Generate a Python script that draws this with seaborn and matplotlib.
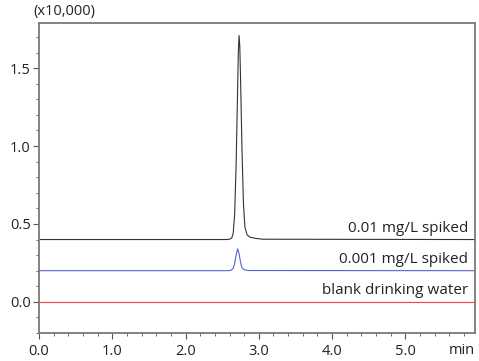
import pandas as pd
import matplotlib.pyplot as plt
import seaborn as sns
from matplotlib.ticker import MultipleLocator, FormatStrFormatter

# retention time (min) and intensity (x10,000)
t_hi = [0.0, 2.55, 2.60, 2.63, 2.65, 2.67, 2.69, 2.71, 2.72, 2.73, 2.74, 2.75,
        2.77, 2.79, 2.81, 2.84, 2.88, 2.95, 3.05, 5.95]
y_hi = [0.40, 0.40, 0.402, 0.41, 0.44, 0.56, 0.88, 1.35, 1.60, 1.71, 1.64, 1.45,
        0.98, 0.63, 0.48, 0.43, 0.415, 0.408, 0.402, 0.40]
t_lo = [0.0, 2.58, 2.62, 2.65, 2.67, 2.69, 2.71, 2.73, 2.75, 2.77, 2.80, 2.86, 5.95]
y_lo = [0.20, 0.20, 0.203, 0.215, 0.245, 0.30, 0.34, 0.31, 0.255, 0.22, 0.206, 0.201, 0.20]
t_blank = [0.0, 5.95]
y_blank = [0.0, 0.0]
labels = ["0.01 mg/L spiked", "0.001 mg/L spiked", "blank drinking water"]
label_y = [0.40, 0.20, 0.0]
colors = ["#333333", "#5563cc", "#ff4040"]

df = pd.concat([
    pd.DataFrame({"t": t_hi, "y": y_hi, "s": labels[0]}),
    pd.DataFrame({"t": t_lo, "y": y_lo, "s": labels[1]}),
    pd.DataFrame({"t": t_blank, "y": y_blank, "s": labels[2]}),
])

sns.set_style("ticks")
plt.rcParams['font.family'] = ['Open Sans', 'DejaVu Sans']

fig = plt.figure(figsize=(4.79, 3.61), dpi=100)
ax = fig.add_axes([39/479, 1-333/361, (475-39)/479, (333-23)/361])

sns.lineplot(data=df, x="t", y="y", hue="s", palette=colors, hue_order=labels,
             linewidth=0.8, legend=False, ax=ax, sort=False, estimator=None)

for lab, yy in zip(labels, label_y):
    ax.text(5.86, yy + 0.025, lab, ha="right", va="bottom", fontsize=11, color="#222222")

ax.set_xlim(0, 5.95)
ax.set_ylim(-0.2, 1.79)
ax.xaxis.set_major_locator(MultipleLocator(1.0))
ax.xaxis.set_minor_locator(MultipleLocator(0.2))
ax.yaxis.set_major_locator(MultipleLocator(0.5))
ax.yaxis.set_minor_locator(MultipleLocator(0.1))
ax.xaxis.set_major_formatter(FormatStrFormatter('%.1f'))
ax.yaxis.set_major_formatter(FormatStrFormatter('%.1f'))
ax.tick_params(which="major", length=4, width=0.8, color="#555555", labelsize=10.5,
               labelcolor="#222222", pad=2)
ax.tick_params(axis="x", which="major", pad=4)
ax.tick_params(which="minor", length=2, width=0.6, color="#555555")
ax.set_xlabel("")
ax.set_ylabel("")
for sp in ax.spines.values():
    sp.set_color("#7a7a7a")
    sp.set_linewidth(1.3)

ax.text(-0.012, 1.012, "(x10,000)", transform=ax.transAxes, ha="left", va="bottom",
        fontsize=10.5, color="#222222")
ax.text(1.0, -0.033, "min", transform=ax.transAxes, ha="right", va="top",
        fontsize=10.5, color="#222222")

fig.savefig("out.png", dpi=100)
